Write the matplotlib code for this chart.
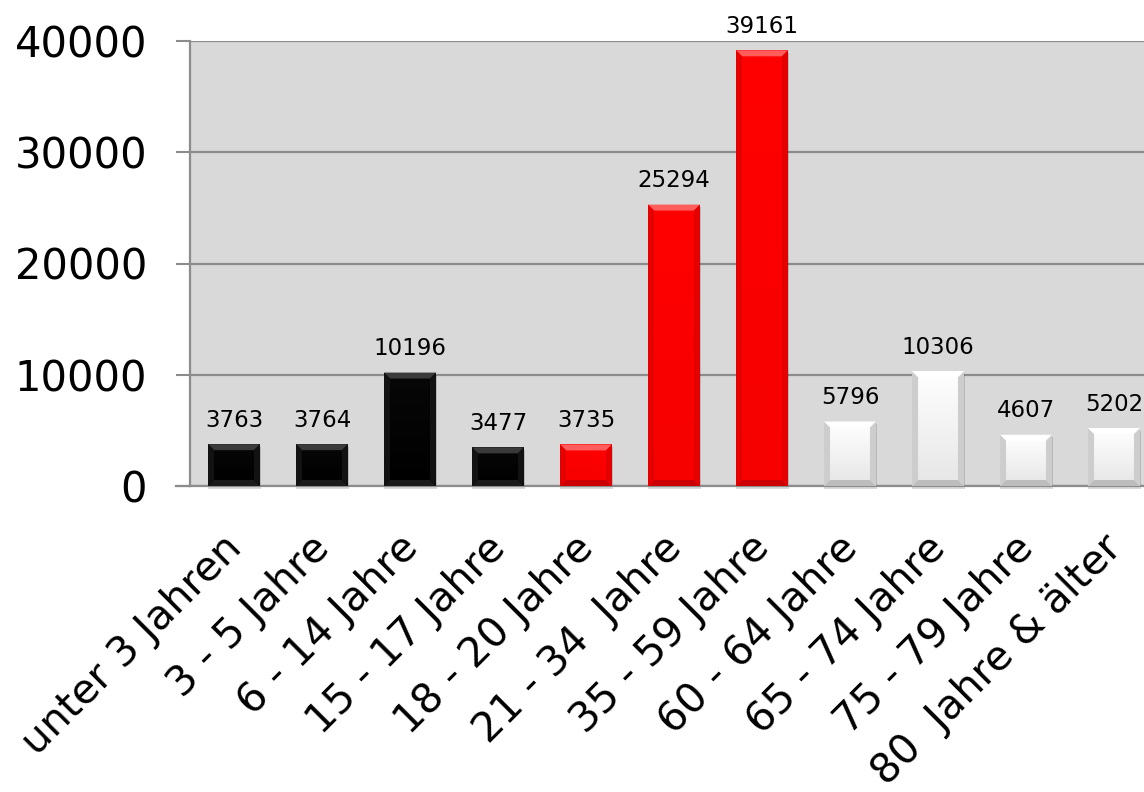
"""
Altersverteilung als Säulendiagramm mit Excel-artigem Bevel-Effekt.
Produces: out.png
"""
import numpy as np
import matplotlib
matplotlib.use("Agg")
import matplotlib.pyplot as plt
from matplotlib.colors import LinearSegmentedColormap
from matplotlib.transforms import ScaledTranslation

# ── Daten ─────────────────────────────────────────────────────────────────────
categories = ["unter 3 Jahren", "3 - 5 Jahre", "6 - 14 Jahre", "15 - 17 Jahre",
              "18 - 20 Jahre", "21 - 34  Jahre", "35 - 59 Jahre", "60 - 64 Jahre",
              "65 - 74 Jahre", "75 - 79 Jahre", "80  Jahre & älter"]
values = [3763, 3764, 10196, 3477, 3735, 25294, 39161, 5796, 10306, 4607, 5202]
groups = ["black"] * 4 + ["red"] * 3 + ["white"] * 4

# face gradient (bottom, top), top bevel, side bevel, bottom bevel
STYLE = {
    "black": (("#000000", "#070707"), "#3a3a3a", "#121212", "#1a1a1a"),
    "red":   (("#f60000", "#ff0000"), "#ff5c5c", "#e40000", "#cc0000"),
    "white": (("#e6e6e6", "#ffffff"), "#ffffff", "#cdcdcd", "#bdbdbd"),
}
C_BG   = "#d9d9d9"
C_GRID = "#8c8c8c"

W, H, DPI = 1144, 792, 100
fig = plt.figure(figsize=(W / DPI, H / DPI), dpi=DPI)
fig.patch.set_facecolor("white")

# plot area runs past the right edge of the picture like in the original
ax_l, ax_b, ax_w, ax_h = 190, 486, 968, 445   # pixels
ax = fig.add_axes([ax_l / W, (H - ax_b) / H, ax_w / W, ax_h / H])
ax.set_facecolor(C_BG)

x = np.arange(len(categories))
bar_w = 0.59
bars = ax.bar(x, values, width=bar_w, color=[STYLE[g][0][1] for g in groups],
              linewidth=0, zorder=3)

# bevel of ~6 px, converted to data units
dx = 6 * (len(categories) / ax_w)
dy = 6 * (40000 / ax_h)
grad = np.linspace(0, 1, 64).reshape(-1, 1)
for bar, g in zip(bars, groups):
    (f_bot, f_top), top, side, bot = STYLE[g]
    x0, x1 = bar.get_x(), bar.get_x() + bar.get_width()
    y0, y1 = 0, bar.get_height()
    # faint shadow
    ax.fill([x0, x1 + dx * 0.25, x1 + dx * 0.25, x0],
            [y0 - dy * 0.5, y0 - dy * 0.5, y1 - dy * 0.4, y1 - dy * 0.4],
            color="#000000", alpha=0.15, lw=0, zorder=2, clip_on=False)
    im = ax.imshow(grad, extent=[x0, x1, y0, y1], origin="lower",
                   cmap=LinearSegmentedColormap.from_list(g, [f_bot, f_top]),
                   aspect="auto", zorder=3.5)
    im.set_clip_path(bar)
    ax.fill([x0, x1, x1 - dx, x0 + dx], [y1, y1, y1 - dy, y1 - dy],
            color=top, lw=0, zorder=4)
    ax.fill([x0, x0 + dx, x0 + dx, x0], [y0, y0 + dy, y1 - dy, y1],
            color=side, lw=0, zorder=4)
    ax.fill([x1, x1 - dx, x1 - dx, x1], [y0, y0 + dy, y1 - dy, y1],
            color=side, lw=0, zorder=4)
    ax.fill([x0, x1, x1 - dx, x0 + dx], [y0, y0, y0 + dy, y0 + dy],
            color=bot, lw=0, zorder=4)
    ax.annotate(f"{int(y1)}", (bar.get_x() + bar.get_width() / 2, y1),
                xytext=(0, 9), textcoords="offset points", ha="center",
                va="bottom", fontsize=16.5, color="#000000", zorder=6,
                annotation_clip=False)

ax.set_xlim(-0.5, len(categories) - 0.5)
ax.set_ylim(0, 40000)

# ── Achsen ────────────────────────────────────────────────────────────────────
ax.set_yticks([0, 10000, 20000, 30000, 40000])
ax.yaxis.grid(True, color=C_GRID, linewidth=1.6, zorder=1)
ax.set_axisbelow(True)
ax.tick_params(axis="y", length=10, width=1.5, color=C_GRID, pad=21,
               labelsize=30, labelcolor="#000000")

ax.set_xticks(x)
ax.set_xticklabels(categories, rotation=45, ha="right", rotation_mode="anchor",
                   fontsize=29.5)
ax.tick_params(axis="x", length=0, pad=30)
shift = ScaledTranslation(-9 / 72, 0, fig.dpi_scale_trans)
for lab in ax.get_xticklabels():
    lab.set_transform(lab.get_transform() + shift)

for s in ["top", "right"]:
    ax.spines[s].set_visible(False)
ax.spines["left"].set_color(C_GRID)
ax.spines["left"].set_linewidth(1.6)
ax.spines["bottom"].set_color(C_GRID)
ax.spines["bottom"].set_linewidth(1.6)
# the 0 line continues into the tick mark on the left
ax.plot([-0.5 - 14 * len(categories) / ax_w, -0.5], [0, 0], color=C_GRID,
        lw=1.6, clip_on=False, zorder=2)

plt.savefig("out.png", dpi=DPI, facecolor="white")
print("Saved: out.png")
